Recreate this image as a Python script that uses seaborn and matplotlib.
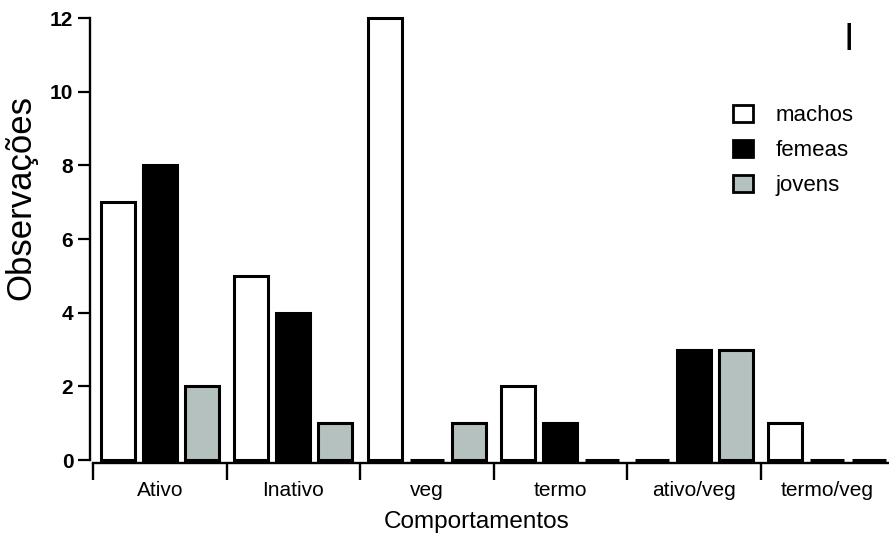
import matplotlib
matplotlib.use("Agg")
import matplotlib.pyplot as plt
from matplotlib.patches import Patch
import seaborn as sns
import pandas as pd

# Behaviour categories and observation counts per group
categories = ["Ativo", "Inativo", "veg", "termo", "ativo/veg", "termo/veg"]
groups = ["machos", "femeas", "jovens"]
machos = [7, 5, 12, 2, 0, 1]
femeas = [8, 4, 0, 1, 3, 0]
jovens = [2, 1, 1, 0, 3, 0]
yticks = [0, 2, 4, 6, 8, 10, 12]
colors = ["#ffffff", "#000000", "#b4c1be"]

rows = []
for g, vals in zip(groups, [machos, femeas, jovens]):
    for c, v in zip(categories, vals):
        rows.append({"Comportamento": c, "Observações": v, "Grupo": g})
df = pd.DataFrame(rows)

sns.set_style("white")
plt.rcParams["font.family"] = ["Liberation Sans", "DejaVu Sans"]
plt.rcParams.update({
    "text.color": "black",
    "axes.labelcolor": "black",
    "xtick.color": "black",
    "ytick.color": "black",
})

W, H = 889, 549
fig = plt.figure(figsize=(W / 100, H / 100), dpi=100)
ax = fig.add_axes([90 / W, (H - 463) / H, (W - 90) / W, (463 - 18) / H])

sns.barplot(
    data=df, x="Comportamento", y="Observações", hue="Grupo",
    order=categories, hue_order=groups, palette=colors,
    width=0.944, gap=0.19, saturation=1, edgecolor="black",
    linewidth=2.2, legend=False, ax=ax,
)
for p in ax.patches:
    p.set_clip_on(False)

ax.set_xlim(-0.5225, 5.462)
ax.set_ylim(-0.08, 12)

sns.despine(ax=ax)
for s in ("left", "bottom"):
    ax.spines[s].set_linewidth(1.7)
    ax.spines[s].set_color("black")
ax.spines["left"].set_bounds(0, 12)
ax.spines["bottom"].set_bounds(-0.5, 5.462)

# y axis
ax.set_yticks(yticks)
ax.set_yticklabels([str(t) for t in yticks], fontsize=15, fontweight="bold")
ax.tick_params(axis="y", which="major", direction="out", length=8.5,
               width=1.6, pad=3.5, left=True)

# x axis: labels at group centres, separators between groups
ax.set_xticks(range(len(categories)))
ax.set_xticklabels(categories, fontsize=15)
ax.set_xticks([i - 0.5 for i in range(len(categories))], minor=True)
ax.tick_params(axis="x", which="major", direction="in", length=2,
               width=1.2, pad=13, bottom=True)
ax.tick_params(axis="x", which="minor", direction="out", length=12,
               width=1.7, bottom=True)

ax.set_xlabel("Comportamentos", fontsize=17.5, va="top")
ax.xaxis.set_label_coords((477 - 90) / (W - 90), -(511 - 463) / (463 - 18))
ax.set_ylabel("Observações", fontsize=25, va="bottom")
ax.yaxis.set_label_coords((37 - 90) / (W - 90), (463 - 197) / (463 - 18))

handles = [Patch(facecolor=c, edgecolor="black", linewidth=2.0) for c in colors]
ax.legend(handles, groups, loc="upper left",
          bbox_to_anchor=(733 / W, 1 - 105 / H), bbox_transform=fig.transFigure,
          frameon=False, fontsize=16, borderpad=0, borderaxespad=0,
          handlelength=0.9, handleheight=0.8, handletextpad=1.0,
          labelspacing=0.62)

fig.text(848.5 / W, 1 - 50 / H, "I", ha="center", va="baseline", fontsize=27)

fig.savefig("out.png", dpi=100)
